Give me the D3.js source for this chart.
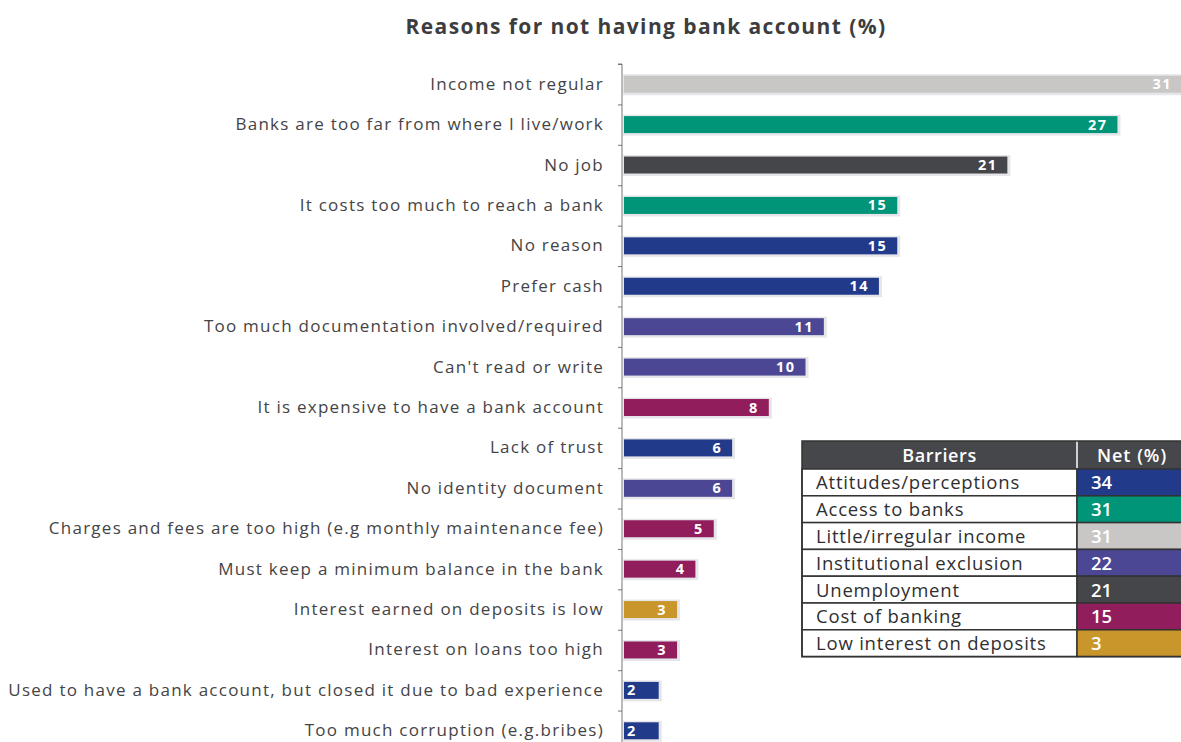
<!DOCTYPE html>
<html>
<head>
<meta charset="utf-8">
<script src="https://cdn.jsdelivr.net/npm/d3@7/dist/d3.min.js"></script>
<style>
  html, body { margin: 0; padding: 0; background: #fff; }
  svg { display: block; }
  text { font-family: "Open Sans", Lato, sans-serif; }
</style>
</head>
<body>
<svg id="chart" width="1181" height="742"></svg>
<script>
// Reasons and their shares (%)
const reasons = [
  "Income not regular",
  "Banks are too far from where I live/work",
  "No job",
  "It costs too much to reach a bank",
  "No reason",
  "Prefer cash",
  "Too much documentation involved/required",
  "Can't read or write",
  "It is expensive to have a bank account",
  "Lack of trust",
  "No identity document",
  "Charges and fees are too high (e.g monthly maintenance fee)",
  "Must keep a minimum balance in the bank",
  "Interest earned on deposits is low",
  "Interest on loans too high",
  "Used to have a bank account, but closed it due to bad experience",
  "Too much corruption (e.g.bribes)"
];
const shares = [31, 27, 21, 15, 15, 14, 11, 10, 8, 6, 6, 5, 4, 3, 3, 2, 2];
const reasonBarrier = [
  "Little/irregular income", "Access to banks", "Unemployment", "Access to banks",
  "Attitudes/perceptions", "Attitudes/perceptions", "Institutional exclusion",
  "Institutional exclusion", "Cost of banking", "Attitudes/perceptions",
  "Institutional exclusion", "Cost of banking", "Cost of banking",
  "Low interest on deposits", "Cost of banking", "Attitudes/perceptions",
  "Attitudes/perceptions"
];

// Barrier summary table
const barriers = [
  "Attitudes/perceptions", "Access to banks", "Little/irregular income",
  "Institutional exclusion", "Unemployment", "Cost of banking", "Low interest on deposits"
];
const barrierNet = [34, 31, 31, 22, 21, 15, 3];
const barrierColors = ["#213a8a", "#009479", "#c8c7c5", "#4b4794", "#44464a", "#921d5d", "#c9962b"];
const tableHeaders = ["Barriers", "Net (%)"];

const svg = d3.select("#chart");
const color = d3.scaleOrdinal().domain(barriers).range(barrierColors);
const W = 1181;

// Title
svg.append("text")
  .attr("x", 646).attr("y", 34)
  .attr("text-anchor", "middle")
  .style("font-size", "21px").style("font-weight", 700)
  .style("letter-spacing", "1.4px")
  .attr("fill", "#3d3d3f")
  .text("Reasons for not having bank account (%)");

// Scales
const x0 = 622;
const x = d3.scaleLinear().domain([0, 30]).range([x0, x0 + 30 * 18.35]);
const y = d3.scaleBand().domain(reasons).range([64, 751]).paddingInner(0.58).paddingOuter(0.29);

const plot = svg.append("g");

// Category axis
const yAxis = d3.axisLeft(d3.scaleLinear().domain([0, reasons.length]).range([64, 751]))
  .ticks(reasons.length).tickSize(4).tickFormat("");
const ax = svg.append("g").attr("transform", `translate(${x0},0)`).call(yAxis);
ax.select(".domain").attr("stroke", "#777").attr("d", "M-4,64H0V760");
ax.selectAll(".tick line").attr("stroke", "#777");

// Bar shadows
plot.selectAll("rect.shadow").data(shares).join("rect")
  .attr("class", "shadow")
  .attr("x", x(0) + 1)
  .attr("y", (d, i) => y(reasons[i]) - 1.5)
  .attr("width", d => x(d) - x(0) + 2)
  .attr("height", y.bandwidth() + 4)
  .attr("fill", "#e6e6ea");

// Bars
plot.selectAll("rect.bar").data(shares).join("rect")
  .attr("class", "bar")
  .attr("x", x(0) + 2)
  .attr("y", (d, i) => y(reasons[i]))
  .attr("width", d => x(d) - x(0) - 2)
  .attr("height", y.bandwidth())
  .attr("fill", (d, i) => color(reasonBarrier[i]));

// Value labels (kept inside the visible area)
plot.selectAll("text.val").data(shares).join("text")
  .attr("class", "val")
  .attr("x", d => d >= 3 ? Math.min(x(d) - 10, W - 9) : x(0) + 5)
  .attr("y", (d, i) => y(reasons[i]) + y.bandwidth() / 2 + 5)
  .attr("text-anchor", d => d >= 3 ? "end" : "start")
  .style("font-size", "14.5px").style("font-weight", 700)
  .style("letter-spacing", "1.4px")
  .attr("fill", "#fff")
  .text(d => d);

// Category labels
plot.selectAll("text.lab").data(reasons).join("text")
  .attr("class", "lab")
  .attr("x", 604)
  .attr("y", d => y(d) + y.bandwidth() / 2 + 5.5)
  .attr("text-anchor", "end")
  .style("font-size", "17px")
  .style("letter-spacing", "1.25px")
  .attr("fill", "#444446")
  .text(d => d);

// Barrier table
const tx = 802, tw = 390, split = 1077, hy = 441, hh = 28, rh = 26.8;
const table = svg.append("g");
table.append("rect").attr("x", tx).attr("y", hy).attr("width", tw).attr("height", hh).attr("fill", "#45474b");
table.append("text").attr("x", (tx + split) / 2).attr("y", hy + 21).attr("text-anchor", "middle")
  .style("font-size", "18px").style("font-weight", 600).style("letter-spacing", "0.6px")
  .attr("fill", "#fff").text(tableHeaders[0]);
table.append("text").attr("x", 1132).attr("y", hy + 21).attr("text-anchor", "middle")
  .style("font-size", "18px").style("font-weight", 600).style("letter-spacing", "1px")
  .attr("fill", "#fff").text(tableHeaders[1]);
table.append("line").attr("x1", split).attr("x2", split).attr("y1", hy).attr("y2", hy + hh)
  .attr("stroke", "#fff").attr("stroke-width", 1.5);

const rowY = d3.scaleBand().domain(barriers).range([hy + hh, hy + hh + rh * barriers.length]);
const rows = table.selectAll("g.row").data(barriers).join("g").attr("class", "row")
  .attr("transform", d => `translate(0,${rowY(d)})`);
rows.append("rect").attr("x", tx).attr("width", split - tx).attr("height", rh)
  .attr("fill", "#fff").attr("stroke", "#333").attr("stroke-width", 1.5);
rows.append("rect").attr("x", split).attr("width", tw).attr("height", rh)
  .attr("fill", d => color(d)).attr("stroke", "#333").attr("stroke-width", 1.5);
rows.append("text").attr("x", 816).attr("y", rh / 2 + 7)
  .style("font-size", "18.5px").style("letter-spacing", "0.8px").attr("fill", "#2f2f31").text(d => d);
rows.append("text").attr("x", 1091).attr("y", rh / 2 + 7)
  .style("font-size", "18.5px").style("font-weight", 600).attr("fill", "#fff")
  .text((d, i) => barrierNet[i]);
table.append("rect").attr("x", tx).attr("y", hy).attr("width", tw)
  .attr("height", hh + rh * barriers.length).attr("fill", "none").attr("stroke", "#333").attr("stroke-width", 1.5);
</script>
</body>
</html>
